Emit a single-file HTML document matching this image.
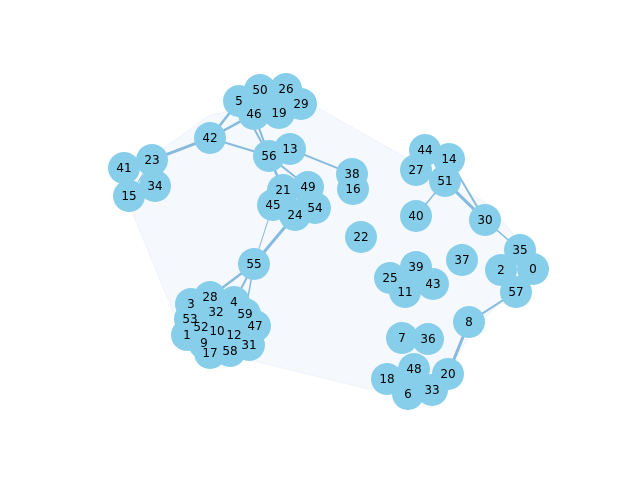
<!DOCTYPE html>
<html><head><meta charset="utf-8"><style>
body{margin:0;background:#fff}
svg{display:block}
text{font-family:"DejaVu Sans","Liberation Sans",sans-serif;font-size:12px;text-anchor:middle;dominant-baseline:central;fill:#000}
</style></head><body>
<svg id="chart" width="640" height="480">
<polygon points="210,115 300,98 490,205 535,262 470,335 435,392 405,398 250,360 185,340 125,195 150,158" fill="#f2f7fe" fill-opacity="0.8" stroke="#eef4fc" stroke-width="1"/>
<g id="edges"></g><g id="nodes"></g><g id="labels"></g>
</svg>
<script>
const nodeIds=[0,1,2,3,4,5,6,7,8,9,10,11,12,13,14,15,16,17,18,19,20,21,22,23,24,25,26,27,28,29,30,31,32,33,34,35,36,37,38,39,40,41,42,43,44,45,46,47,48,49,50,51,52,53,54,55,56,57,58,59];
const nodeX=[533,187,501,191,234,239,408,402,469,204,217,405,234,290,449,129,353,210,387,279,448,283,361,152,295,390,286,416,210,301,485,249,216,432,155,520,428,462,352,416,416,124,210,433,425,273,254,255,414,308,260,445,201,190,315,254,269,516,230,245];
const nodeY=[269,335,270,304,302,101,394,338,322,343,331,292,335,149,159,196,189,353,379,113,374,190,237,160,215,278,89,170,297,104,220,345,312,390,186,250,339,260,174,267,216,168,138,284,150,205,114,326,369,187,90,181,327,319,208,264,156,292,351,314];
const edgeSrc=[42,42,42,42,46,5,56,56,24,45,55,55,55,13,51,14,30,8,8,51,23];
const edgeTgt=[23,5,46,56,56,56,21,49,55,55,28,4,59,38,30,30,35,20,57,40,15];
const edgeW=[3,2.5,2.5,2,2,2,2.5,2,3,1,2.5,2,1.5,2,3,2,1.5,3,2,1.5,1];
const NS="http://www.w3.org/2000/svg";
const eg=document.getElementById('edges'),ng=document.getElementById('nodes'),lg=document.getElementById('labels');
const idx=id=>nodeIds.indexOf(id);
for(let i=0;i<edgeSrc.length;i++){
 const a=idx(edgeSrc[i]),b=idx(edgeTgt[i]);
 const l=document.createElementNS(NS,'line');
 
 
 l.setAttribute('x1',nodeX[a]);l.setAttribute('y1',nodeY[a]);
 l.setAttribute('x2',nodeX[b]);l.setAttribute('y2',nodeY[b]);
 l.setAttribute('stroke','#6aaad6');l.setAttribute('stroke-width',edgeW[i]);l.setAttribute('stroke-opacity','0.8');
 eg.appendChild(l);
}
for(let i=0;i<nodeIds.length;i++){
 const c=document.createElementNS(NS,'circle');
 
 
 c.setAttribute('cx',nodeX[i]);c.setAttribute('cy',nodeY[i]);c.setAttribute('r',16);c.setAttribute('fill','#87ceeb');
 ng.appendChild(c);
 const t=document.createElementNS(NS,'text');
 
 
 t.setAttribute('x',nodeX[i]);t.setAttribute('y',nodeY[i]);t.textContent=nodeIds[i];
 lg.appendChild(t);
}
</script>
</body></html>
